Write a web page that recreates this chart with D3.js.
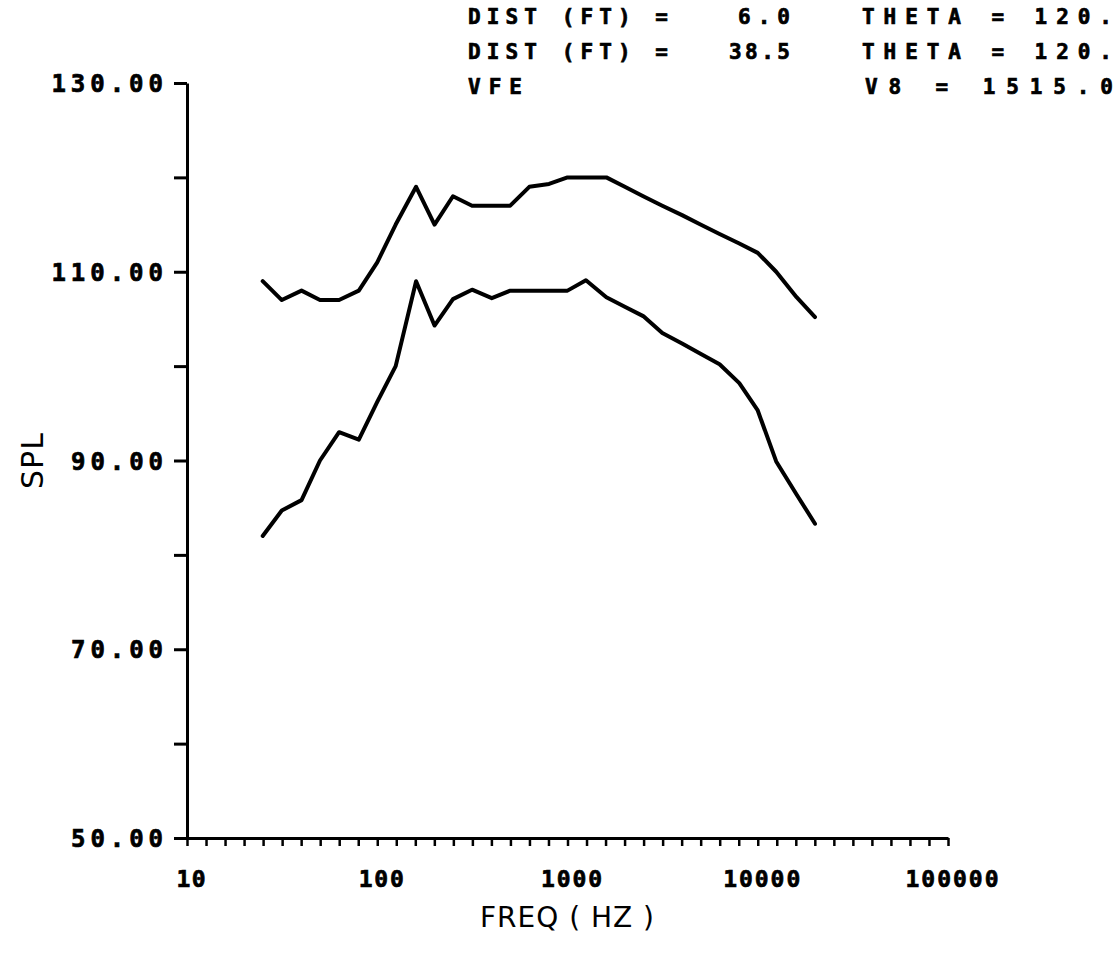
<!DOCTYPE html>
<html>
<head>
<meta charset="utf-8">
<script src="https://cdn.jsdelivr.net/npm/d3@7"></script>
<style>
  html,body{margin:0;padding:0;background:#fff;}
  svg{display:block;}
  .mono{font-family:"DejaVu Sans Mono",monospace;font-weight:bold;fill:#000;stroke:#000;stroke-width:0.7px;}
  .plot{font-family:"DejaVu Sans",sans-serif;fill:#000;}
</style>
</head>
<body>
<div id="chart"></div>
<script>
// 1/3-octave band centre frequencies (Hz)
const FREQS = [25,31.5,40,50,63,80,100,125,160,200,250,315,400,500,630,800,
               1000,1250,1600,2000,2500,3150,4000,5000,6300,8000,10000,12500,16000,20000];
// SPL at DIST = 6.0 ft
const SPL_6 = [109,107,108,107,107,108,111,115,119,115,118,117,117,117,119,119.3,
               120,120,120,119,118,117,116,115,114,113,112,110,107.3,105.2];
// SPL at DIST = 38.5 ft
const SPL_38 = [82,84.7,85.8,90,93,92.2,96.2,100,109,104.3,107.1,108.1,107.2,108,108,108,
                108,109.1,107.3,106.3,105.3,103.5,102.4,101.3,100.2,98.2,95.3,89.9,86.4,83.3];
const Y_TICKS = [50,60,70,80,90,100,110,120,130];
const X_LABELS = [10,100,1000,10000,100000];
const HEADER = [
  [["DIST (FT) =",468,200],["6.0",738,52],["THETA = 120.",862,250]],
  [["DIST (FT) =",468,200],["38.5",729,61],["THETA = 120.",862,250]],
  [["VFE",468,54],["V8 = 1515.0",865,248]]
];

const W = 1118, H = 958;
const MG = {t:83,r:170,b:120,l:187};
const svg = d3.select("#chart").append("svg").attr("width",W).attr("height",H);

const x = d3.scaleLog().domain([10,100000]).range([MG.l, W-MG.r]);
const y = d3.scaleLinear().domain([50,130]).range([H-MG.b, MG.t]);

// x axis: one tick every tenth of a decade
const xTicks = d3.range(0,41).map(k => Math.pow(10, 1 + k/10));
const gx = svg.append("g").attr("transform",`translate(0,${y(50)})`)
  .call(d3.axisBottom(x).tickValues(xTicks).tickSize(8).tickSizeOuter(0).tickFormat(""));
gx.select(".domain").attr("stroke","#000").attr("stroke-width",3);
gx.selectAll(".tick line").attr("stroke","#000").attr("stroke-width",2.5);

X_LABELS.forEach(v=>{
  const s = String(v);
  svg.append("text").attr("class","mono")
    .attr("x",x(v)+4).attr("y",y(50)+49).attr("text-anchor","middle")
    .attr("font-size",23).attr("textLength",s.length*16-3).attr("lengthAdjust","spacing")
    .text(s);
});

// y axis
const gy = svg.append("g").attr("transform",`translate(${x(10)},0)`)
  .call(d3.axisLeft(y).tickValues(Y_TICKS).tickSize(13).tickSizeOuter(0).tickFormat(""));
gy.select(".domain").attr("stroke","#000").attr("stroke-width",3);
gy.selectAll(".tick line").attr("stroke","#000").attr("stroke-width",3);

Y_TICKS.filter(v => v % 20 === 10).forEach(v=>{
  const s = v.toFixed(2);
  svg.append("text").attr("class","mono")
    .attr("x",163).attr("y",y(v)+9).attr("text-anchor","end")
    .attr("font-size",24).attr("textLength",s.length*19.6-6).attr("lengthAdjust","spacing")
    .text(s);
});

// curves
const line = d3.line().x(d=>x(d[0])).y(d=>y(d[1]));
[SPL_6, SPL_38].forEach(vals=>{
  svg.append("path")
    .datum(FREQS.map((f,i)=>[f,vals[i]]))
    .attr("fill","none").attr("stroke","#000").attr("stroke-width",4)
    .attr("stroke-linejoin","round").attr("stroke-linecap","round")
    .attr("d",line);
});

// axis titles
svg.append("text").attr("class","plot")
  .attr("transform",`translate(43,${y(90)}) rotate(-90)`)
  .attr("text-anchor","middle").attr("font-size",30).attr("letter-spacing",1)
  .text("SPL");
svg.append("text").attr("class","plot")
  .attr("x",x(1000)).attr("y",927).attr("text-anchor","middle")
  .attr("font-size",28).attr("letter-spacing",1)
  .text("FREQ ( HZ )");

// header block
HEADER.forEach((row,r)=>{
  row.forEach(([s,px,w])=>{
    svg.append("text").attr("class","mono")
      .attr("x",px).attr("y",24 + r*35)
      .attr("font-size",21).attr("textLength",w).attr("lengthAdjust","spacing")
      .text(s);
  });
});
</script>
</body>
</html>
